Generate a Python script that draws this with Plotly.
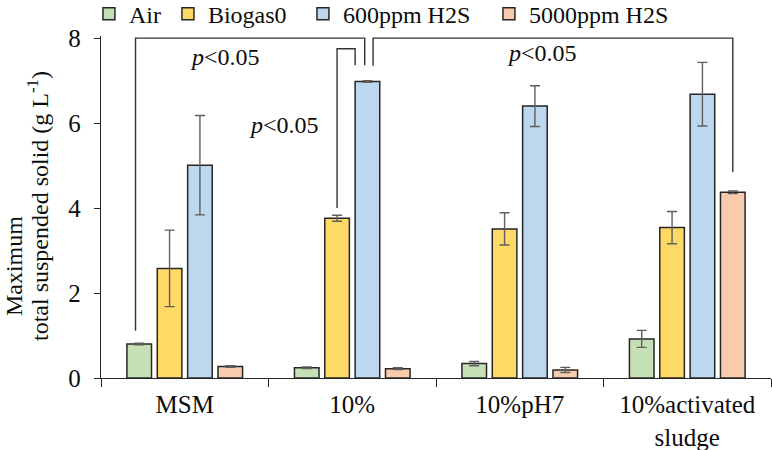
import plotly.graph_objects as go

# ---- data -------------------------------------------------------------
categories = ["MSM", "10%", "10%pH7", "10%activated<br>sludge"]
series_names = ["Air", "Biogas0", "600ppm H2S", "5000ppm H2S"]

air = [0.80, 0.24, 0.34, 0.92]
air_err = [0.02, 0.02, 0.05, 0.20]
biogas0 = [2.58, 3.76, 3.51, 3.54]
biogas0_err = [0.90, 0.07, 0.38, 0.38]
h2s_600 = [5.01, 6.98, 6.40, 6.68]
h2s_600_err = [1.17, 0.02, 0.48, 0.75]
h2s_5000 = [0.27, 0.22, 0.19, 4.37]
h2s_5000_err = [0.02, 0.02, 0.06, 0.03]

y_ticks = [0, 2, 4, 6, 8]

# significance brackets:
# (left category, left series, left drop end, right category, right series,
#  right drop end, bracket height, left nudge, right nudge) -- nudges in bar widths
brackets = [
    (0, 0, 1.11, 1, 2, 7.36, 8.00, -0.15, -0.11),
    (1, 1, 4.00, 1, 2, 7.36, 7.75, 0.00, -0.50),
    (1, 2, 7.35, 3, 3, 4.85, 8.00, 0.23, 0.00),
]
# p-value labels: (x in category units, y)
p_labels = [(0.24, 7.56), (0.59, 5.96), (2.13, 7.65)]

# ---- styling ----------------------------------------------------------
FONT = "Liberation Serif, Times New Roman, serif"
TEXT = "#0d0d0d"
colors = ["#C5E0B4", "#FFD966", "#BDD7EE", "#F8CBAD"]
BARGAP = 0.275
BARGROUPGAP = 0.19
n_series = len(series_names)
slot = (1 - BARGAP) / n_series
bar_w = slot * (1 - BARGROUPGAP)


def bar_x(cat, s, nudge=0.0):
    return cat + (s - (n_series - 1) / 2) * slot + nudge * bar_w


fig = go.Figure()
legend_widths = [34, 90, 141, 150]
for name, vals, errs, col, lw in zip(
    series_names,
    [air, biogas0, h2s_600, h2s_5000],
    [air_err, biogas0_err, h2s_600_err, h2s_5000_err],
    colors,
    legend_widths,
):
    fig.add_trace(
        go.Bar(
            name=name,
            x=categories,
            y=vals,
            marker=dict(color=col, line=dict(color="#262626", width=1.5)),
            error_y=dict(type="data", array=errs, visible=True,
                         color="#5f5f5f", thickness=1.4, width=5),
            legendwidth=lw,
        )
    )

for (c1, s1, b1, c2, s2, b2, top, n1, n2) in brackets:
    x1 = bar_x(c1, s1, n1)
    x2 = bar_x(c2, s2, n2)
    fig.add_shape(
        type="path",
        xref="x", yref="y",
        path=f"M {x1},{b1} L {x1},{top} L {x2},{top} L {x2},{b2}",
        line=dict(color="#333333", width=1.4),
    )

for (px, py) in p_labels:
    fig.add_annotation(
        x=px, y=py, xref="x", yref="y",
        text="<i>p</i>&lt;0.05", showarrow=False,
        xanchor="center", yanchor="middle",
        font=dict(family=FONT, size=24, color=TEXT),
    )

# two-line y-axis title
fig.add_annotation(
    x=-0.130, y=0.327, xref="paper", yref="paper",
    xanchor="center", yanchor="middle",
    text="Maximum", textangle=-90, showarrow=False,
    font=dict(family=FONT, size=24, color=TEXT),
)
fig.add_annotation(
    x=-0.094, y=0.503, xref="paper", yref="paper",
    xanchor="center", yanchor="middle",
    text="total suspended solid (g L<sup>-1</sup>)", textangle=-90, showarrow=False,
    font=dict(family=FONT, size=24, color=TEXT),
)

fig.update_layout(
    width=772, height=450,
    margin=dict(l=101, r=1, t=36, b=72, autoexpand=False),
    paper_bgcolor="white", plot_bgcolor="white",
    barmode="group", bargap=BARGAP, bargroupgap=BARGROUPGAP,
    font=dict(family=FONT, size=24, color=TEXT),
    legend=dict(
        orientation="h", xref="paper", yref="paper",
        x=-0.018, y=1.064, xanchor="left", yanchor="middle",
        font=dict(family=FONT, size=24, color=TEXT),
        bgcolor="rgba(0,0,0,0)", traceorder="normal",
    ),
    showlegend=True,
)
fig.update_xaxes(
    range=[-0.5, 3.5], showline=True, linecolor="#262626", linewidth=1.3,
    ticks="outside", tickson="boundaries", ticklen=8, tickcolor="#262626",
    tickwidth=1.3, showgrid=False, zeroline=False,
    tickfont=dict(family=FONT, size=25, color=TEXT), ticklabelstandoff=4,
)
fig.update_yaxes(
    range=[0, 8.05], tickvals=y_ticks, showline=True, linecolor="#262626",
    linewidth=1.3, ticks="outside", ticklen=6, tickcolor="#262626",
    tickwidth=1.3, showgrid=False, zeroline=False,
    tickfont=dict(family=FONT, size=25, color=TEXT), ticklabelstandoff=8,
)

fig.write_html("out.html")
